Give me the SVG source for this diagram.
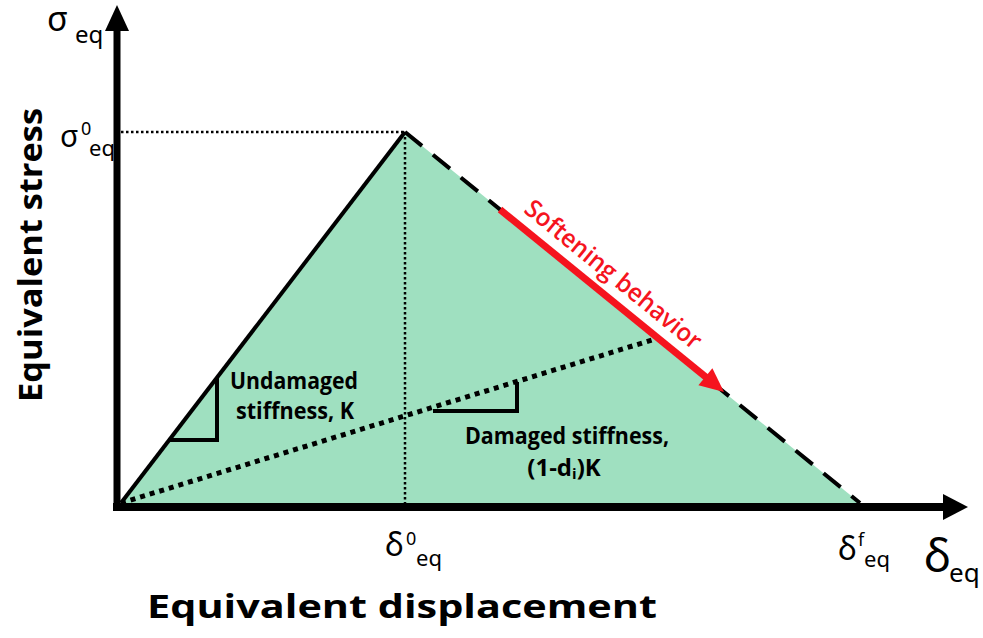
<svg xmlns="http://www.w3.org/2000/svg" width="983" height="638" viewBox="0 0 983 638">
<style>
.sym{font-family:"Noto Sans","DejaVu Sans",sans-serif;fill:#000}
.lbl{font-family:"Open Sans","Noto Sans","Liberation Sans",sans-serif;font-weight:700;fill:#000}
.red{font-family:"Open Sans","Noto Sans","Liberation Sans",sans-serif;font-weight:600;fill:#f5141e}
</style>
<rect width="983" height="638" fill="#fff"/>
<g id="region">
<polygon points="121,503 405,132 860,503" fill="#9fe0c0"/>
</g>
<g id="connectors" fill="none" stroke="#000">
<line x1="121" y1="132" x2="405" y2="132" stroke-width="2.5" stroke-dasharray="2.5 2.5"/>
<line x1="405" y1="132" x2="405" y2="503" stroke-width="2.5" stroke-dasharray="2.5 2.5"/>
<line x1="121" y1="503" x2="405" y2="132" stroke-width="4"/>
<line x1="405" y1="132" x2="860" y2="503" stroke-width="4" stroke-dasharray="22 14"/>
<line x1="121" y1="503" x2="652" y2="340" stroke-width="5" stroke-dasharray="5 5"/>
<path d="M217,378 V440 H168" stroke-width="4"/>
<path d="M433,411 H517 V382" stroke-width="4"/>
<line x1="500" y1="209.5" x2="707" y2="378" stroke="#f5141e" stroke-width="7"/>
<polygon points="724,392 698.4,385.3 712.4,368.3" fill="#f5141e" stroke="none"/>
</g>
<g id="axes">
<line x1="117" y1="511" x2="117" y2="28" stroke="#000" stroke-width="7"/>
<polygon points="117,5 105,31 129,31" fill="#000"/>
<line x1="113" y1="507" x2="946" y2="507" stroke="#000" stroke-width="8"/>
<polygon points="968,507 943,494 943,520" fill="#000"/>
</g>
<g id="axis-labels">
<text class="sym" x="47" y="31" font-size="34">σ<tspan font-size="24" x="75" y="43">eq</tspan></text>
<text class="sym" x="60" y="147" font-size="30">σ<tspan font-size="18" x="81" y="135">0</tspan><tspan font-size="22" x="89" y="156">eq</tspan></text>
<text class="sym" x="385" y="556" font-size="32">δ<tspan font-size="18" x="406" y="545">0</tspan><tspan font-size="22" x="416" y="566">eq</tspan></text>
<text class="sym" x="838" y="560" font-size="32">δ<tspan font-size="18" x="858" y="546">f</tspan><tspan font-size="22" x="864" y="567">eq</tspan></text>
<text class="sym" x="924" y="572" font-size="46">δ<tspan font-size="26" x="949" y="582">eq</tspan></text>
<text class="lbl" x="402" y="618" font-size="32" text-anchor="middle" textLength="510" lengthAdjust="spacingAndGlyphs">Equivalent displacement</text>
<text class="lbl" transform="translate(42,255) rotate(-90)" x="0" y="0" font-size="32" text-anchor="middle" textLength="294" lengthAdjust="spacingAndGlyphs">Equivalent stress</text>
</g>
<g id="undamaged">
<text class="lbl" x="294" y="389" font-size="24" text-anchor="middle" textLength="128" lengthAdjust="spacingAndGlyphs">Undamaged</text>
<text class="lbl" x="295" y="419" font-size="24" text-anchor="middle" textLength="118" lengthAdjust="spacingAndGlyphs">stiffness, K</text>
</g>
<g id="damaged">
<text class="lbl" x="567" y="444" font-size="24" text-anchor="middle" textLength="204" lengthAdjust="spacingAndGlyphs">Damaged stiffness,</text>
<text class="lbl" x="564" y="476" font-size="24" text-anchor="middle">(1-d<tspan font-size="15" dy="3">i</tspan><tspan dy="-3">)K</tspan></text>
</g>
<g id="softening">
<text class="red" transform="translate(608,281) rotate(39.2)" x="0" y="0" font-size="25" text-anchor="middle" textLength="220" lengthAdjust="spacingAndGlyphs">Softening behavior</text>
</g>
</svg>
